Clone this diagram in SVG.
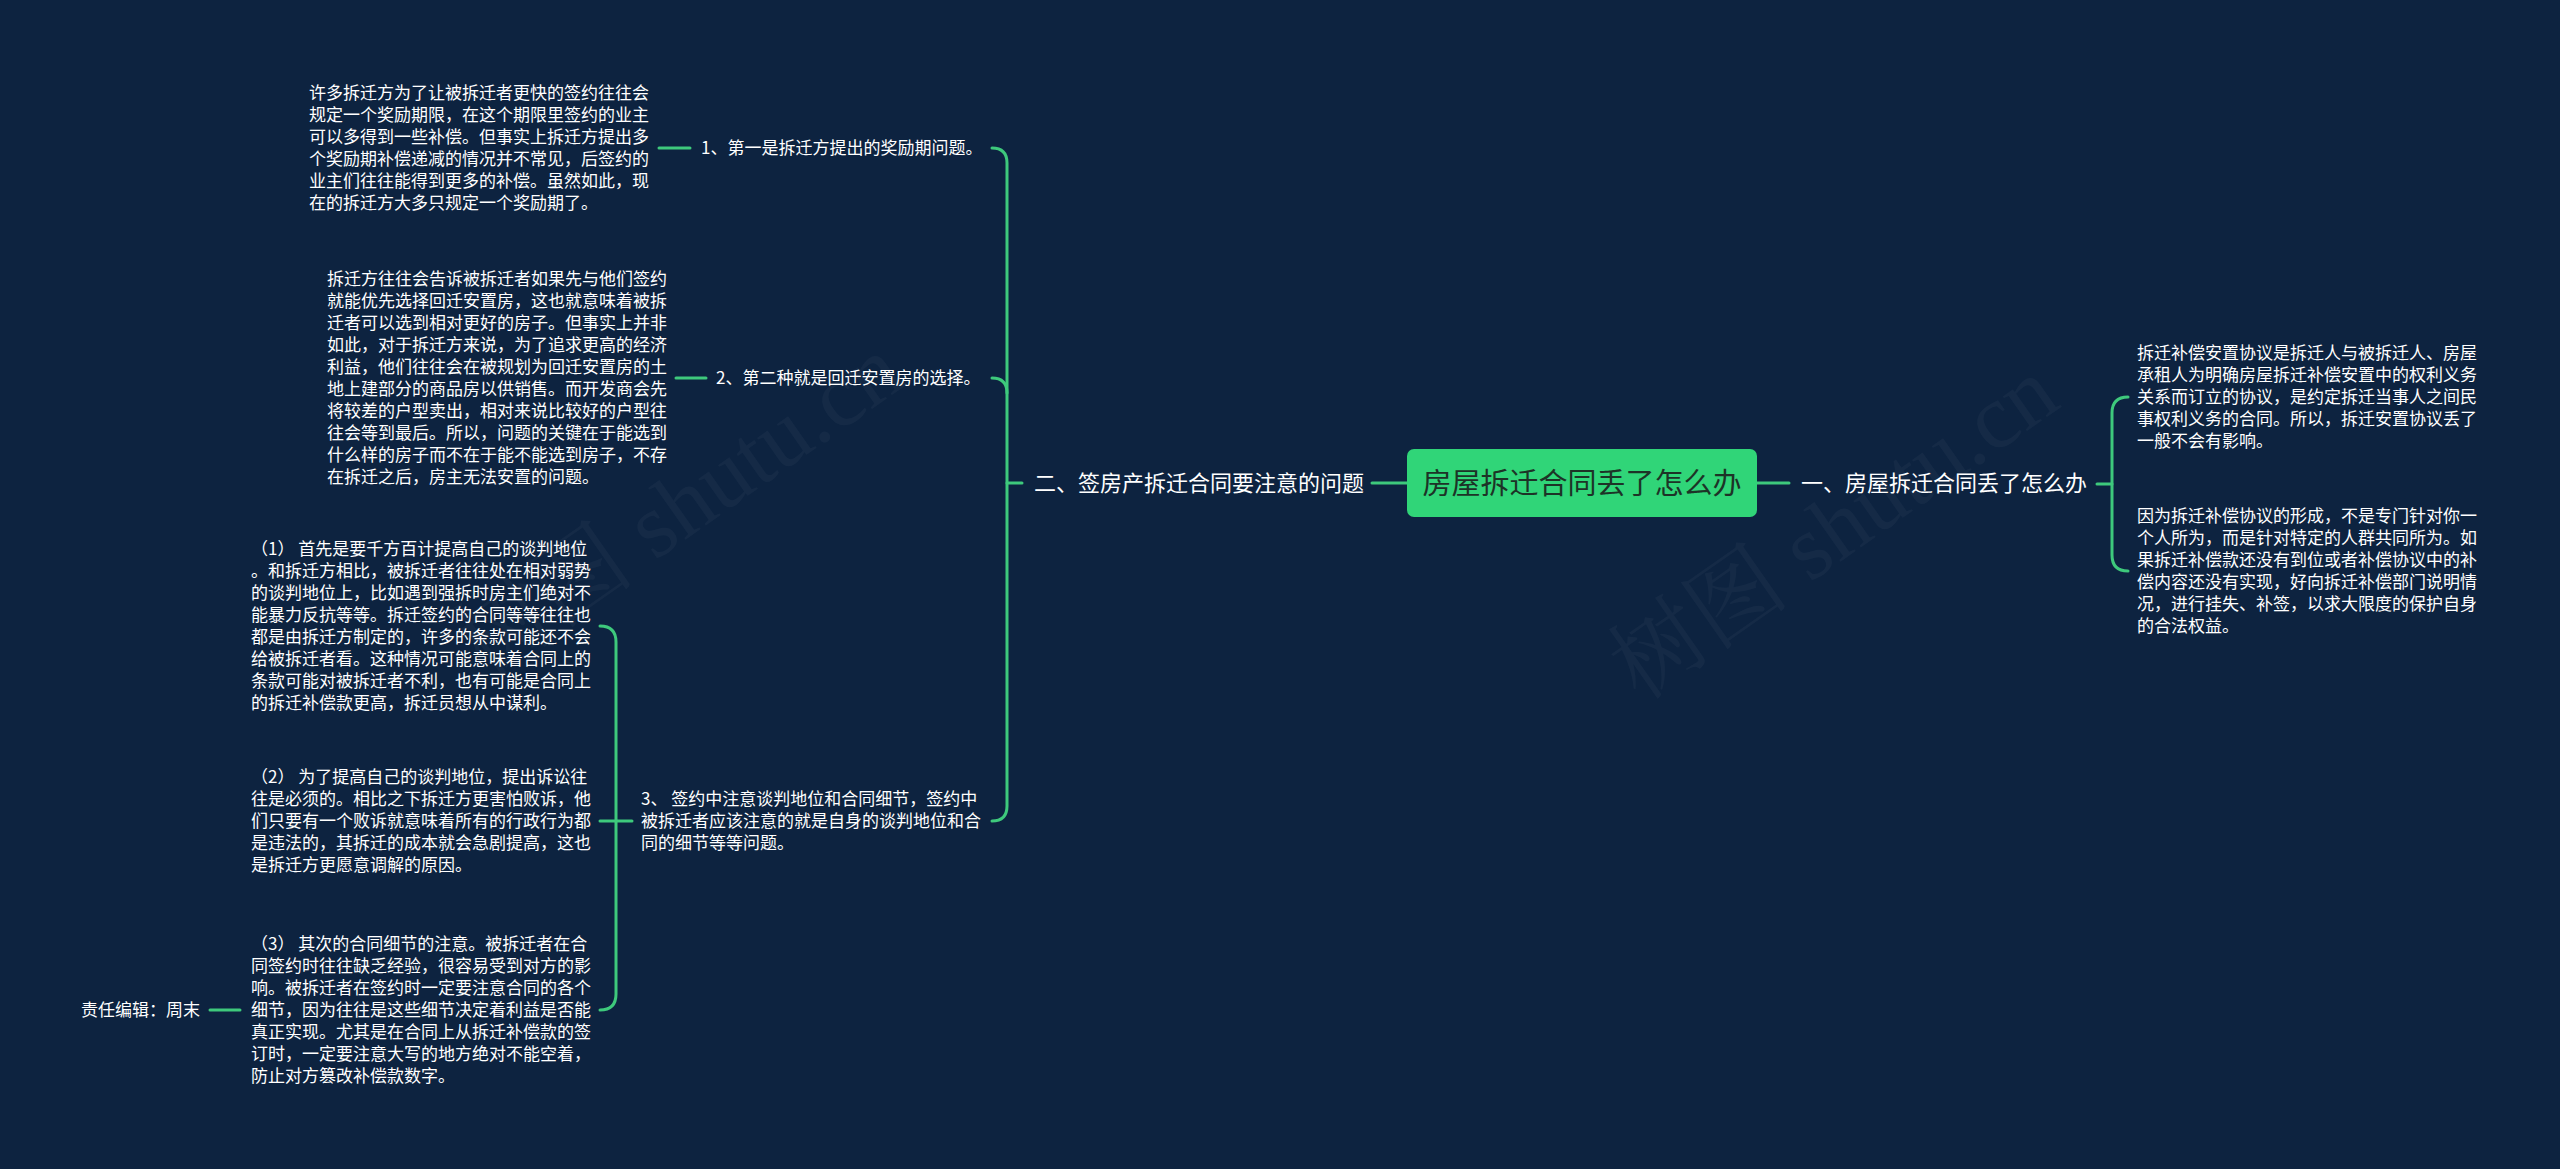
<svg xmlns="http://www.w3.org/2000/svg" width="2560" height="1169" viewBox="0 0 2560 1169">
<style>
.t{font-family:"Noto Sans CJK SC","Noto Sans",sans-serif;font-size:17px;fill:#ffffff}
.m{font-family:"Noto Sans CJK SC","Noto Sans",sans-serif;font-size:22px;fill:#ffffff}
.c{font-family:"Noto Sans CJK SC","Noto Sans",sans-serif;font-size:29px;fill:#1d3327}
.ln{fill:none;stroke:#3ec97c;stroke-width:3;stroke-linecap:round}
.wm{font-family:"Liberation Serif","Noto Serif CJK SC","Noto Sans CJK SC",serif;font-size:92px;fill:#ffffff;fill-opacity:0.035}
</style>
<rect width="2560" height="1169" fill="#0d2340"/>
<g id="watermarks">
<text class="wm" transform="translate(1640,702) rotate(-35)">树图 shutu.cn</text>
<text class="wm" transform="translate(485,680) rotate(-35)">树图 shutu.cn</text>
</g>
<g id="connectors">
<path class="ln" d="M1372 483 L1407 483"/>
<path class="ln" d="M1757 483 L1789 483"/>
<path class="ln" d="M2097 484 L2112 484"/>
<path class="ln" d="M2128 397 Q2112 397 2112 413 L2112 555 Q2112 571 2128 571"/>
<path class="ln" d="M1022 483 L1007 483"/>
<path class="ln" d="M992 148 Q1007 148 1007 163 L1007 806 Q1007 821 992 821"/>
<path class="ln" d="M992 378 Q1007 378 1007 393"/>
<path class="ln" d="M690 148 L659 148"/>
<path class="ln" d="M706 378 L676 378"/>
<path class="ln" d="M632 821 L600 821"/>
<path class="ln" d="M600 626 Q616 626 616 642 L616 994 Q616 1010 600 1010"/>
<path class="ln" d="M240 1010 L210 1010"/>
</g>
<g id="root">
<rect x="1407" y="449" width="350" height="68" rx="7" fill="#30d578"/>
<text class="c" x="1582" y="494" text-anchor="middle">房屋拆迁合同丢了怎么办</text>
</g>
<g id="branch-right">
<text class="m" x="1801" y="491">一、房屋拆迁合同丢了怎么办</text>
</g>
<g id="right-text-1">
<text class="t" x="2137" y="359">拆迁补偿安置协议是拆迁人与被拆迁人、房屋</text>
<text class="t" x="2137" y="381">承租人为明确房屋拆迁补偿安置中的权利义务</text>
<text class="t" x="2137" y="403">关系而订立的协议，是约定拆迁当事人之间民</text>
<text class="t" x="2137" y="425">事权利义务的合同。所以，拆迁安置协议丢了</text>
<text class="t" x="2137" y="447">一般不会有影响。</text>
</g>
<g id="right-text-2">
<text class="t" x="2137" y="522">因为拆迁补偿协议的形成，不是专门针对你一</text>
<text class="t" x="2137" y="544">个人所为，而是针对特定的人群共同所为。如</text>
<text class="t" x="2137" y="566">果拆迁补偿款还没有到位或者补偿协议中的补</text>
<text class="t" x="2137" y="588">偿内容还没有实现，好向拆迁补偿部门说明情</text>
<text class="t" x="2137" y="610">况，进行挂失、补签，以求大限度的保护自身</text>
<text class="t" x="2137" y="632">的合法权益。</text>
</g>
<g id="branch-left">
<text class="m" x="1034" y="491">二、签房产拆迁合同要注意的问题</text>
</g>
<g id="label-1">
<text class="t" x="701" y="154">1、第一是拆迁方提出的奖励期问题。</text>
</g>
<g id="para-1">
<text class="t" x="309" y="99">许多拆迁方为了让被拆迁者更快的签约往往会</text>
<text class="t" x="309" y="121">规定一个奖励期限，在这个期限里签约的业主</text>
<text class="t" x="309" y="143">可以多得到一些补偿。但事实上拆迁方提出多</text>
<text class="t" x="309" y="165">个奖励期补偿递减的情况并不常见，后签约的</text>
<text class="t" x="309" y="187">业主们往往能得到更多的补偿。虽然如此，现</text>
<text class="t" x="309" y="209">在的拆迁方大多只规定一个奖励期了。</text>
</g>
<g id="label-2">
<text class="t" x="716" y="384">2、第二种就是回迁安置房的选择。</text>
</g>
<g id="para-2">
<text class="t" x="327" y="285">拆迁方往往会告诉被拆迁者如果先与他们签约</text>
<text class="t" x="327" y="307">就能优先选择回迁安置房，这也就意味着被拆</text>
<text class="t" x="327" y="329">迁者可以选到相对更好的房子。但事实上并非</text>
<text class="t" x="327" y="351">如此，对于拆迁方来说，为了追求更高的经济</text>
<text class="t" x="327" y="373">利益，他们往往会在被规划为回迁安置房的土</text>
<text class="t" x="327" y="395">地上建部分的商品房以供销售。而开发商会先</text>
<text class="t" x="327" y="417">将较差的户型卖出，相对来说比较好的户型往</text>
<text class="t" x="327" y="439">往会等到最后。所以，问题的关键在于能选到</text>
<text class="t" x="327" y="461">什么样的房子而不在于能不能选到房子，不存</text>
<text class="t" x="327" y="483">在拆迁之后，房主无法安置的问题。</text>
</g>
<g id="label-3">
<text class="t" x="641" y="805">3、 签约中注意谈判地位和合同细节，签约中</text>
<text class="t" x="641" y="827">被拆迁者应该注意的就是自身的谈判地位和合</text>
<text class="t" x="641" y="849">同的细节等等问题。</text>
</g>
<g id="sub-1">
<text class="t" x="251" y="555">（1） 首先是要千方百计提高自己的谈判地位</text>
<text class="t" x="251" y="577">。和拆迁方相比，被拆迁者往往处在相对弱势</text>
<text class="t" x="251" y="599">的谈判地位上，比如遇到强拆时房主们绝对不</text>
<text class="t" x="251" y="621">能暴力反抗等等。拆迁签约的合同等等往往也</text>
<text class="t" x="251" y="643">都是由拆迁方制定的，许多的条款可能还不会</text>
<text class="t" x="251" y="665">给被拆迁者看。这种情况可能意味着合同上的</text>
<text class="t" x="251" y="687">条款可能对被拆迁者不利，也有可能是合同上</text>
<text class="t" x="251" y="709">的拆迁补偿款更高，拆迁员想从中谋利。</text>
</g>
<g id="sub-2">
<text class="t" x="251" y="783">（2） 为了提高自己的谈判地位，提出诉讼往</text>
<text class="t" x="251" y="805">往是必须的。相比之下拆迁方更害怕败诉，他</text>
<text class="t" x="251" y="827">们只要有一个败诉就意味着所有的行政行为都</text>
<text class="t" x="251" y="849">是违法的，其拆迁的成本就会急剧提高，这也</text>
<text class="t" x="251" y="871">是拆迁方更愿意调解的原因。</text>
</g>
<g id="sub-3">
<text class="t" x="251" y="950">（3） 其次的合同细节的注意。被拆迁者在合</text>
<text class="t" x="251" y="972">同签约时往往缺乏经验，很容易受到对方的影</text>
<text class="t" x="251" y="994">响。被拆迁者在签约时一定要注意合同的各个</text>
<text class="t" x="251" y="1016">细节，因为往往是这些细节决定着利益是否能</text>
<text class="t" x="251" y="1038">真正实现。尤其是在合同上从拆迁补偿款的签</text>
<text class="t" x="251" y="1060">订时，一定要注意大写的地方绝对不能空着，</text>
<text class="t" x="251" y="1082">防止对方篡改补偿款数字。</text>
</g>
<g id="editor">
<text class="t" x="81" y="1016">责任编辑：周末</text>
</g>
</svg>
